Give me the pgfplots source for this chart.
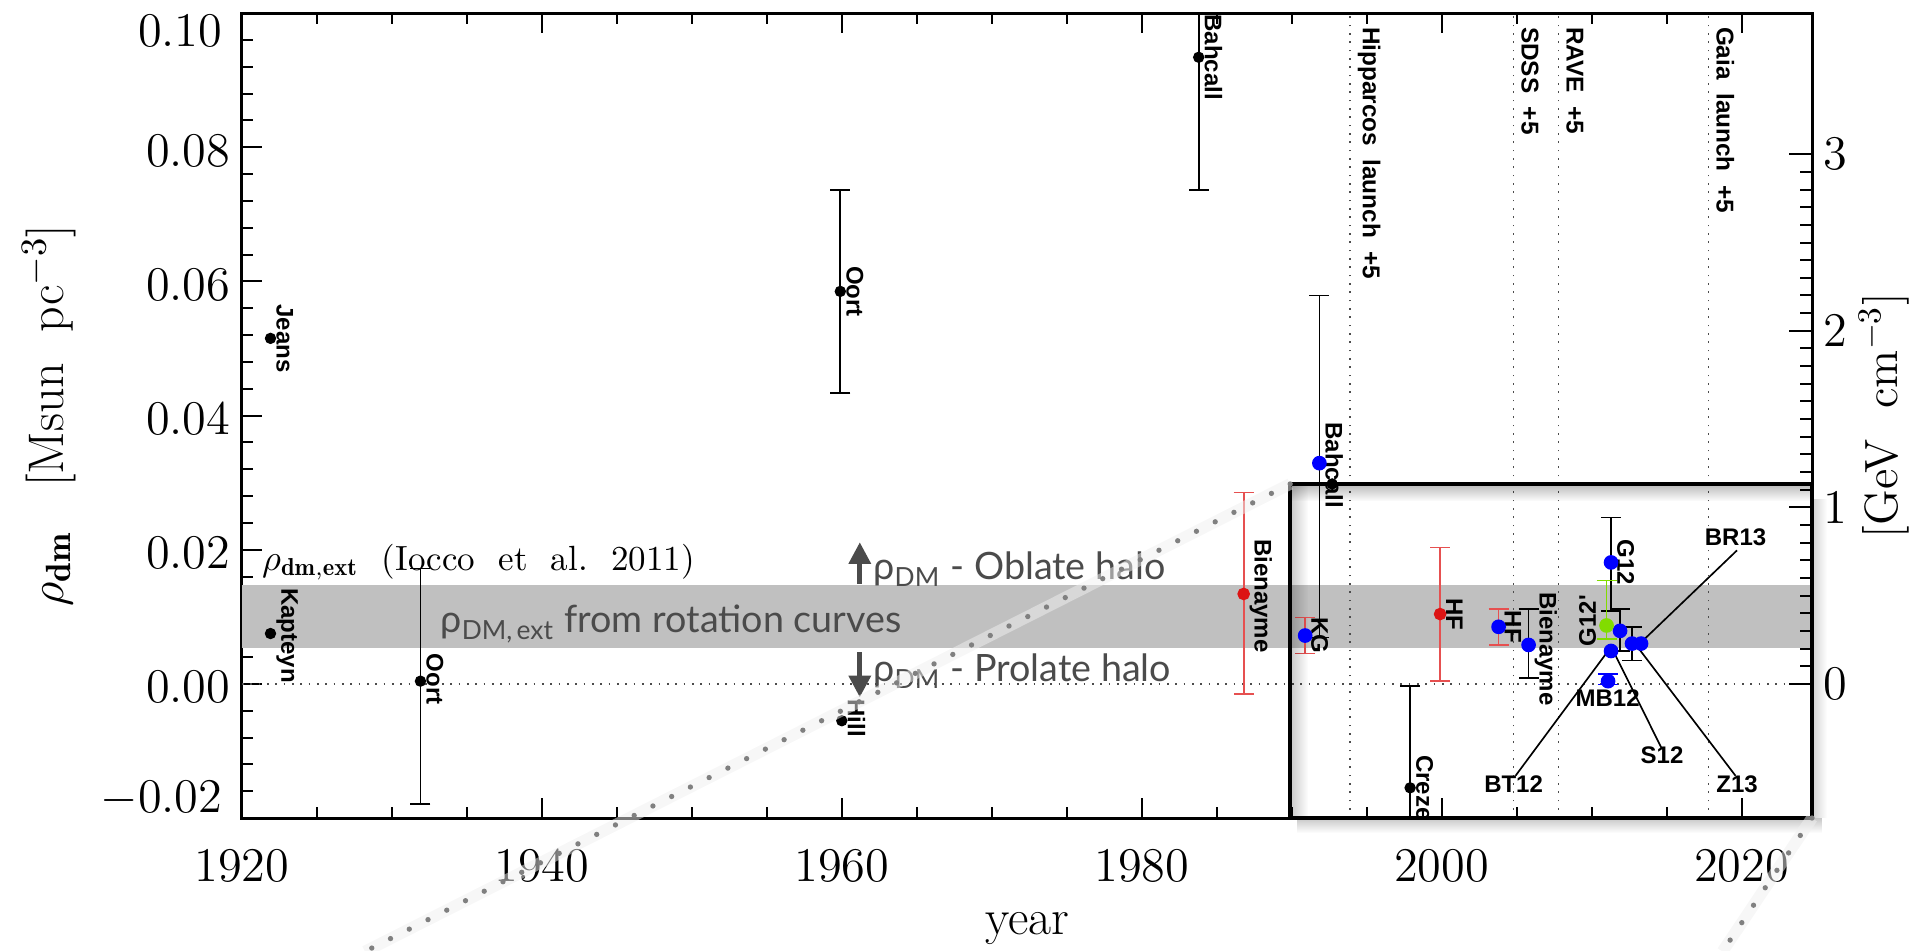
\documentclass[border=0pt]{standalone}
\usepackage{fontspec}
\usepackage{pgfplots}
\pgfplotsset{compat=1.18}
\usetikzlibrary{arrows.meta,fadings}
\newfontfamily\labfont{Liberation Sans}
\newfontfamily\gillfont{Lato}
\definecolor{ovgray}{RGB}{75,75,75}
\definecolor{ebred}{RGB}{230,80,80}
\definecolor{ptred}{RGB}{220,20,20}
\definecolor{ptblue}{RGB}{0,0,255}
\definecolor{ptgreen}{RGB}{130,220,0}
\definecolor{bandgray}{RGB}{192,192,192}
\newcommand{\tickfont}{\fontsize{14.5}{16}\selectfont\addfontfeature{LetterSpace=6}}
\tikzset{
 dlab/.style={font=\labfont\bfseries\fontsize{7.2}{8}\selectfont, rotate=-90, anchor=south, inner sep=1.6pt},
 dlabl/.style={font=\labfont\bfseries\fontsize{7.2}{8}\selectfont, rotate=90, anchor=south, inner sep=1.6pt},
 vlab/.style={font=\labfont\bfseries\fontsize{7.3}{8}\selectfont, rotate=-90, anchor=south west, inner sep=1pt},
 hlab/.style={font=\labfont\bfseries\fontsize{7.2}{8}\selectfont, inner sep=0pt},
 ov/.style={font=\gillfont\fontsize{11.3}{13}\selectfont, text=ovgray, inner sep=0pt, anchor=base west},
}
\pgfplotsset{
 ebars/.style 2 args={only marks, mark=*, mark size=#1,
   error bars/y dir=both, error bars/y explicit,
   error bars/error bar style={line width=0.5pt, #2},
   error bars/error mark options={rotate=90, mark size=3pt, line width=0.5pt, #2}},
}
\begin{document}
\begin{tikzpicture}
\useasboundingbox (-72.6pt,-39.6pt) rectangle (501.3pt,245.4pt);
\begin{axis}[
 width=471pt, height=241.5pt, scale only axis,
 xmin=1920, xmax=2024.7, ymin=-0.02, ymax=0.10,
 xtick={1920,1940,...,2020}, minor x tick num=3,
 xticklabels={1920,1940,1960,1980,2000,2020},
 ytick={-0.02,0,0.02,0.04,0.06,0.08,0.10}, minor y tick num=4,
 yticklabels={{},0.00,0.02,0.04,0.06,0.08,{}},
 ytick pos=left, xtick pos=both,
 major tick length=6pt, minor tick length=3.3pt,
 tick style={line width=0.6pt, black},
 axis line style={line width=0.9pt},
 tick label style={font=\tickfont},
 xticklabel shift=5.8pt,
 yticklabel style={yshift=-1pt},
 xlabel={year},
 xlabel style={font=\fontsize{15}{17}\selectfont\addfontfeature{LetterSpace=8}, at={(axis description cs:0.5,-0.145)}, anchor=base},
 ylabel={$\rho_{\mathbf{dm}}$\ \ \ {\addfontfeature{LetterSpace=13}[Msun\ \ pc}$^{-3}$]},
 ylabel style={font=\fontsize{15}{17}\selectfont, at={(axis description cs:-0.123,0.5)}, anchor=center},
]
% band
\fill[bandgray] (axis cs:1920,0.0053) rectangle (axis cs:2024.7,0.0147);
% dotted reference lines
\draw[dotted, line width=0.5pt, black!70] (axis cs:1920,0) -- (axis cs:2024.7,0);
\draw[dotted, line width=0.5pt, black!70] (axis cs:1993.9,-0.02) -- (axis cs:1993.9,0.10);
\draw[dotted, line width=0.5pt, black!70] (axis cs:2004.8,-0.02) -- (axis cs:2004.8,0.10);
\draw[dotted, line width=0.5pt, black!70] (axis cs:2007.8,-0.02) -- (axis cs:2007.8,0.10);
\draw[dotted, line width=0.5pt, black!70] (axis cs:2017.8,-0.02) -- (axis cs:2017.8,0.10);
\node[vlab] at (axis cs:1994.15,0.0985) {Hipparcos\ \ launch\ \ +5};
\node[vlab] at (axis cs:2005.05,0.0985) {SDSS\ \ +5};
\node[vlab] at (axis cs:2008.05,0.0985) {RAVE\ \ +5};
\node[vlab] at (axis cs:2018.05,0.0985) {Gaia\ \ launch\ \ +5};

% leader lines
\draw[line width=0.5pt] (axis cs:2004.93,-0.0137) -- (axis cs:2011.2,0.0052);
\draw[line width=0.5pt] (axis cs:2014.67,-0.0096) -- (axis cs:2011.45,0.0049);
\draw[line width=0.5pt] (axis cs:2019.6,-0.0137) -- (axis cs:2013.1,0.0054);
\draw[line width=0.5pt] (axis cs:2019.7,0.0199) -- (axis cs:2013.4,0.0064);

% black points with error bars
\addplot[black, ebars={1.5pt}{black}] coordinates {
 (1931.9,0.0004) += (0,0.0168) -= (0,0.0183)
 (1959.9,0.0585) += (0,0.0151) -= (0,0.0151)
 (1983.8,0.0934) += (0,0.0200) -= (0,0.0198)
 (1997.9,-0.0155) += (0,0.0152) -= (0,0.0200)
};
% black points without error bars
\addplot[only marks, mark=*, mark size=1.5pt, black] coordinates {
 (1921.9,0.0515) (1921.9,0.0075) (1960.0,-0.0055) (1992.7,0.0298)
};
% red points
\addplot[ptred, ebars={1.7pt}{ebred}] coordinates {
 (1986.8,0.0134) += (0,0.0151) -= (0,0.0149)
 (1999.9,0.0104) += (0,0.0099) -= (0,0.0100)
};
% blue points with black error bars
\addplot[ptblue, ebars={2pt}{black}] coordinates {
 (1991.85,0.0329) += (0,0.0250) -= (0,0.0260)
 (2005.8,0.0058) += (0,0.0054) -= (0,0.0049)
 (2011.3,0.0181) += (0,0.0067) -= (0,0.0072)
 (2011.9,0.0079) += (0,0.0033) -= (0,0.0030)
 (2012.7,0.0060) += (0,0.0025) -= (0,0.0025)
};
% blue points with red error bars
\addplot[ptblue, ebars={2pt}{ebred}] coordinates {
 (1990.9,0.0072) += (0,0.0027) -= (0,0.0027)
 (2003.8,0.0085) += (0,0.0027) -= (0,0.0027)
};
% green point
\addplot[ptgreen, ebars={2pt}{ptgreen}] coordinates {
 (2011.0,0.0087) += (0,0.0067) -= (0,0.0020)
};
% blue point with blue error bar
\addplot[ptblue, ebars={2pt}{ptblue}] coordinates {
 (2011.1,0.0004) += (0,0.0011) -= (0,0.0005)
};
\addplot[only marks, mark=*, mark size=2pt, ptblue] coordinates {
 (2011.3,0.0049) (2013.3,0.0060)
};

% data labels
\node[dlab] at (axis cs:1921.9,0.0515) {Jeans};
\node[dlab] at (axis cs:1921.9,0.0072) {Kapteyn};
\node[dlab] at (axis cs:1931.9,0.0007) {Oort};
\node[dlab] at (axis cs:1959.9,0.0585) {Oort};
\node[dlab] at (axis cs:1960.0,-0.0051) {Hill};
\node[dlab] at (axis cs:1983.8,0.0934) {Bahcall};
\node[dlab] at (axis cs:1986.8,0.0131) {Bienayme};
\node[dlab] at (axis cs:1991.85,0.0326) {Bahcall};
\node[dlab] at (axis cs:1990.9,0.0072) {KG};
\node[dlab] at (axis cs:1997.9,-0.0155) {Creze};
\node[dlab] at (axis cs:1999.9,0.0104) {HF};
\node[dlab] at (axis cs:2003.8,0.0085) {HF};
\node[dlab] at (axis cs:2005.8,0.0052) {Bienayme};
\node[dlab] at (axis cs:2011.3,0.0181) {G12};
\node[dlabl] at (axis cs:2010.7,0.0094) {G12'};
\node[hlab] at (axis cs:2004.8,-0.0149) {BT12};
\node[hlab] at (axis cs:2011.07,-0.0021) {MB12};
\node[hlab] at (axis cs:2014.7,-0.0107) {S12};
\node[hlab] at (axis cs:2019.7,-0.0149) {Z13};
\node[hlab] at (axis cs:2019.6,0.0219) {BR13};

% Iocco annotation
\node[anchor=base west, inner sep=0pt, font=\fontsize{10.5}{12}\selectfont\addfontfeature{LetterSpace=14}] at (axis cs:1921.3,0.0169) {$\rho_{\mathbf{dm,ext}}$\ \ (Iocco\ \ et\ \ al.\ \ 2011)};

% overlays
\node[ov] at (axis cs:1933.2,0.0076) {ρ\textsubscript{DM,\,ext} from rotation curves};
\draw[ovgray, line width=1.4pt, -{Triangle[width=6.5pt,length=6.5pt]}] (axis cs:1961.2,0.0149) -- (axis cs:1961.2,0.0211);
\node[ov] at (axis cs:1962.07,0.0155) {ρ\textsubscript{DM} - Oblate halo};
\draw[ovgray, line width=1.4pt, -{Triangle[width=6.5pt,length=6.5pt]}] (axis cs:1961.2,0.0047) -- (axis cs:1961.2,-0.0020);
\node[ov] at (axis cs:1962.07,0.0003) {ρ\textsubscript{DM} - Prolate halo};

% inset box with soft shadow
\fill[black, opacity=0.28, path fading=south] (axis cs:1989.9,0.0298) rectangle (axis cs:2024.7,0.0272);
\fill[black, opacity=0.22, path fading=east] (axis cs:1989.9,0.0298) rectangle (axis cs:1991.1,-0.02);
\draw[line width=1.3pt] (axis cs:1989.9,0.0298) rectangle (axis cs:2024.7,-0.02);
\coordinate (boxTL) at (axis cs:1989.9,0.0298);
\coordinate (boxBL) at (axis cs:1989.9,-0.02);
\coordinate (boxBR) at (axis cs:2024.7,-0.02);
\coordinate (zA) at (axis cs:1928.2,-0.0399);
\coordinate (zB) at (axis cs:2018.73,-0.0399);
\coordinate (ytop) at (axis cs:1920,0.10);
\coordinate (ybot) at (axis cs:1920,-0.02);
\end{axis}

\begin{axis}[
 width=471pt, height=241.5pt, scale only axis,
 xmin=1920, xmax=2024.7, ymin=-0.76, ymax=3.8,
 hide x axis, axis y line*=right,
 ytick={0,1,2,3}, minor y tick num=9,
 yticklabels={0,1,2,3},
 major tick length=7pt, minor tick length=3.6pt,
 tick style={line width=0.6pt, black},
 axis line style={line width=0.9pt},
 tick label style={font=\tickfont},
 ylabel={{\addfontfeature{LetterSpace=8}[GeV\ \ cm}$^{-3}$]},
 ylabel style={font=\fontsize{14}{16}\selectfont, at={(axis description cs:1.0459,0.5)}, anchor=center},
]
\end{axis}

% end tick labels of the left axis, kept inside the axis height
\node[anchor=north east, inner sep=0pt, font=\tickfont] at ([xshift=-5.7pt,yshift=-0.3pt]ytop) {0.10};
\node[anchor=south east, inner sep=0pt, font=\tickfont] at ([xshift=-5.7pt,yshift=0.3pt]ybot) {$-$0.02};

% shadow of box outside the axis
\fill[black, opacity=0.22, path fading=south] ([xshift=2pt]boxBL) rectangle ([xshift=3pt,yshift=-4.5pt]boxBR);
\fill[black, opacity=0.18, path fading=east] (boxBR) rectangle ([xshift=4.5pt,yshift=-4.5pt]boxBR |- boxTL);

% zoom lines
\draw[black!6, line width=3.5pt, opacity=0.5, shift={(1.2pt,-1.6pt)}] (boxTL) -- (zA);
\draw[black!50, line width=1.6pt, line cap=round, dash pattern=on 0pt off 6.3pt] (boxTL) -- (zA);
\draw[black!6, line width=3.5pt, opacity=0.5, shift={(1.2pt,-1.6pt)}] (boxBR) -- (zB);
\draw[black!50, line width=1.6pt, line cap=round, dash pattern=on 0pt off 6.3pt] (boxBR) -- (zB);
\end{tikzpicture}
\end{document}
